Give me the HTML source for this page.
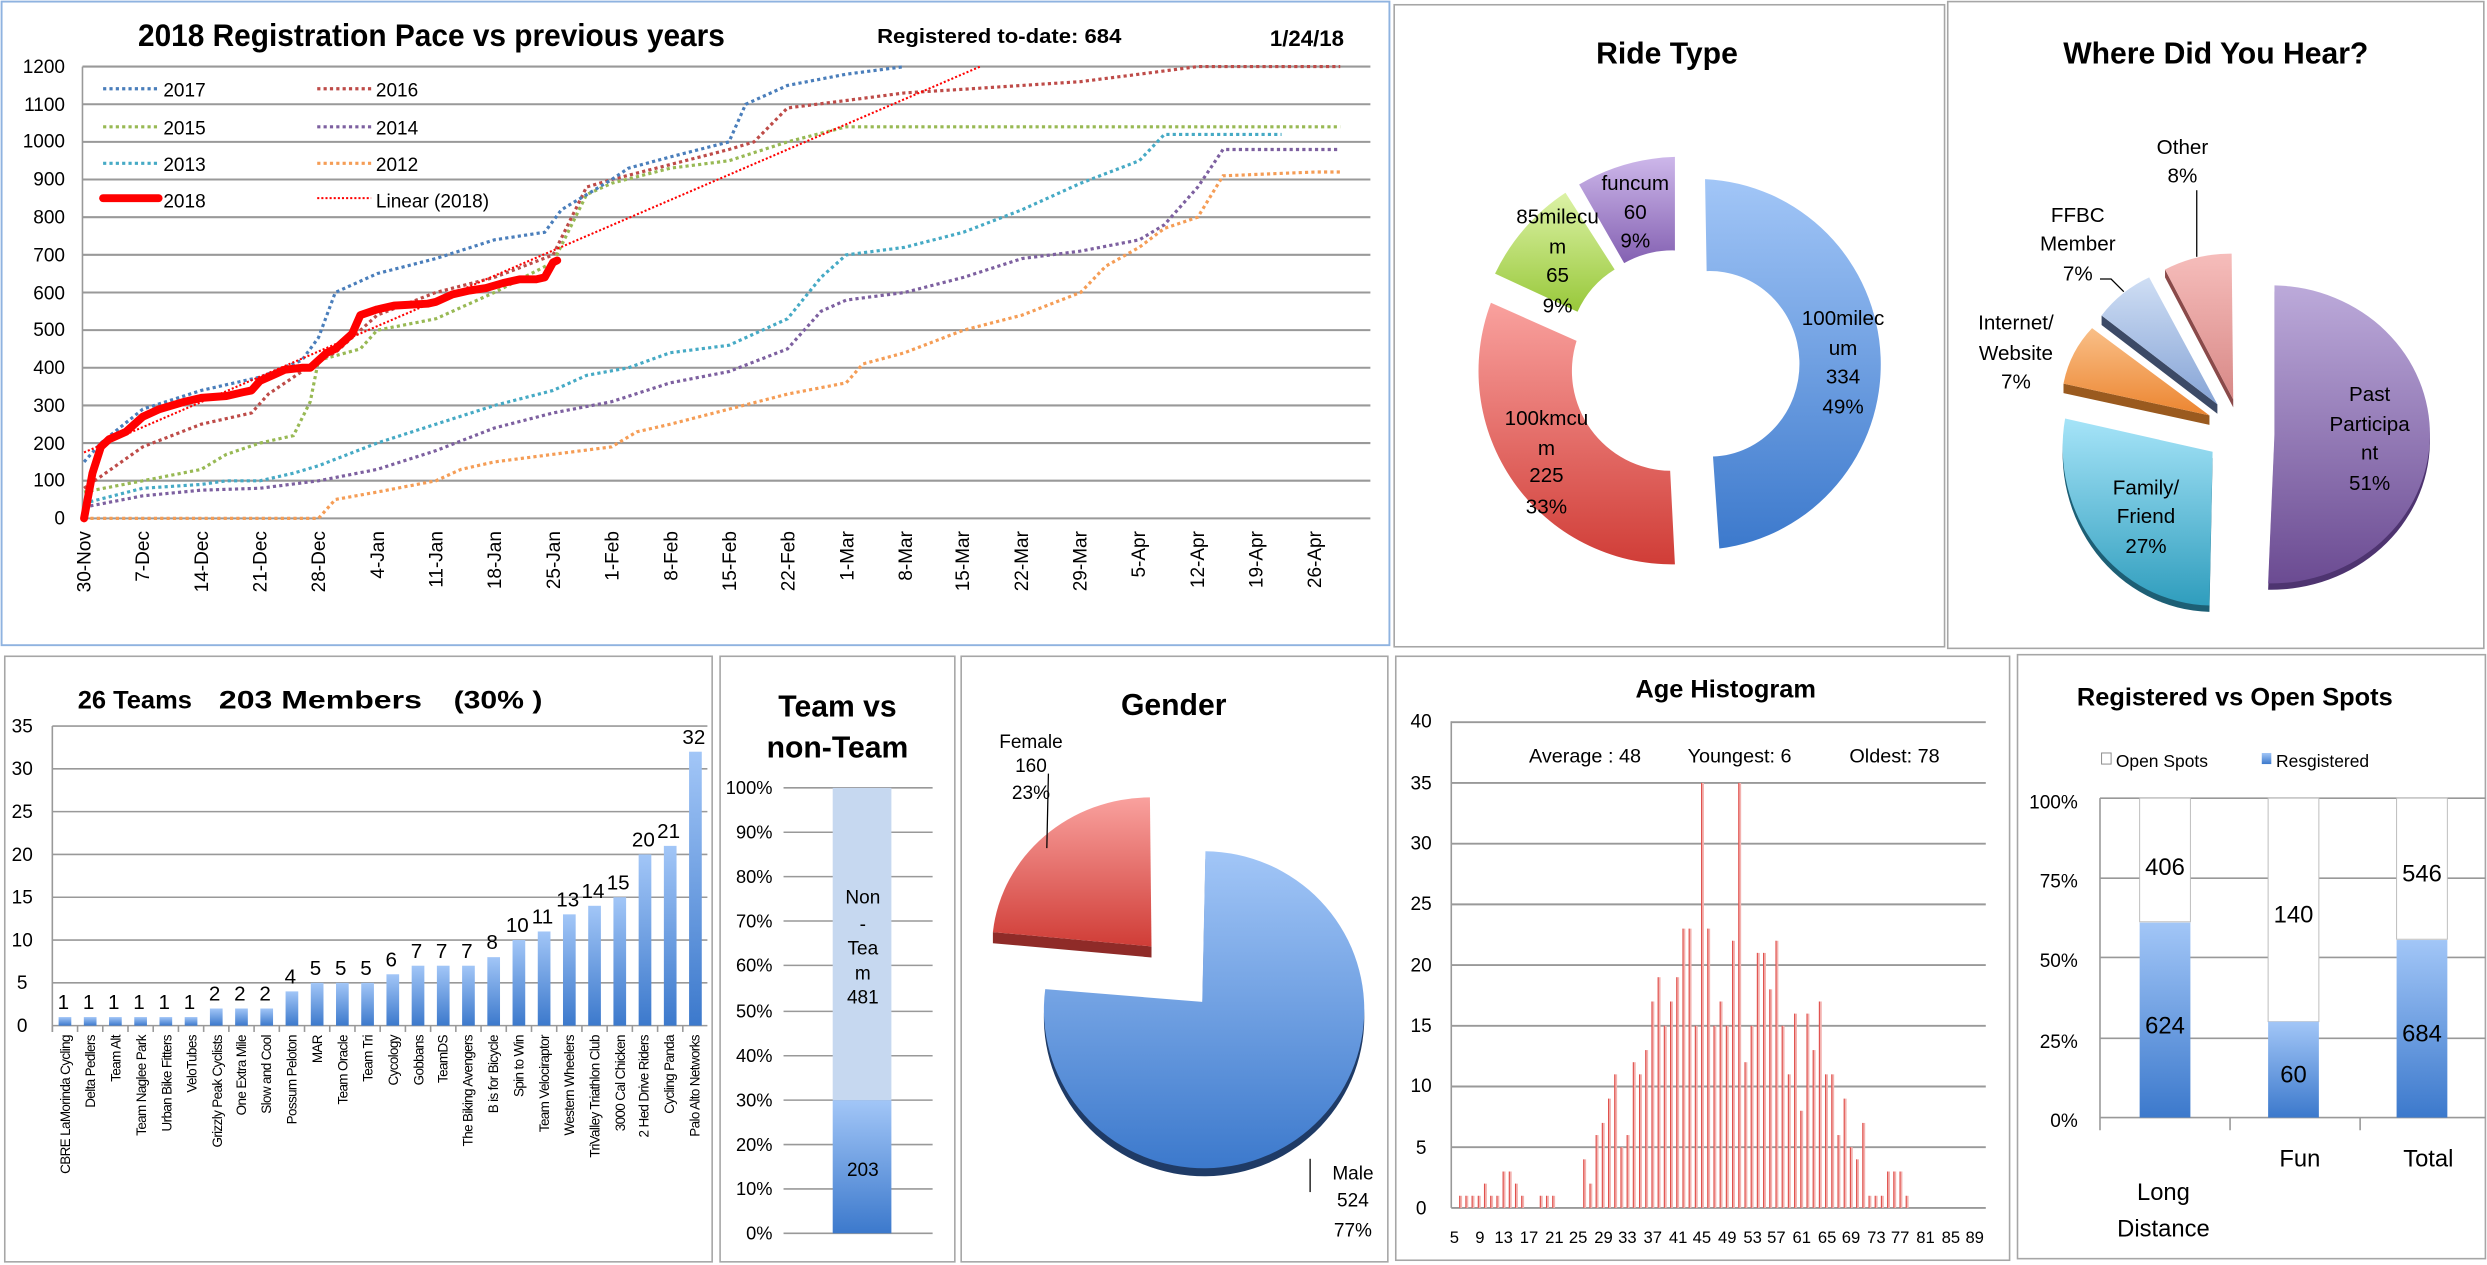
<!DOCTYPE html>
<html><head><meta charset="utf-8"><style>
html,body{margin:0;padding:0;background:#fff;}
svg{display:block;}
text{font-family:"Liberation Sans Narrow","Liberation Sans",sans-serif;fill:#000;}
.b{font-weight:bold;}
</style></head><body>
<svg id="s" width="2487" height="1265" viewBox="0 0 1568 798" preserveAspectRatio="none" xmlns="http://www.w3.org/2000/svg">
<defs>
<linearGradient id="gb" x1="0" y1="0" x2="0" y2="1"><stop offset="0" stop-color="#a2c6f7"/><stop offset="1" stop-color="#3c79cc"/></linearGradient>
<linearGradient id="gr" x1="0" y1="0" x2="0" y2="1"><stop offset="0" stop-color="#f9a19e"/><stop offset="1" stop-color="#d03d37"/></linearGradient>
<linearGradient id="gg" x1="0" y1="0" x2="0" y2="1"><stop offset="0" stop-color="#dcf2a6"/><stop offset="1" stop-color="#98c83a"/></linearGradient>
<linearGradient id="gp" x1="0" y1="0" x2="0" y2="1"><stop offset="0" stop-color="#cdb7ea"/><stop offset="1" stop-color="#8461b2"/></linearGradient>
<linearGradient id="gpp" x1="0" y1="0" x2="0" y2="1"><stop offset="0" stop-color="#bcaada"/><stop offset="1" stop-color="#6b4b92"/></linearGradient>
<linearGradient id="gc" x1="0" y1="0" x2="0" y2="1"><stop offset="0" stop-color="#a6e4f8"/><stop offset="1" stop-color="#2f9dbd"/></linearGradient>
<linearGradient id="go" x1="0" y1="0" x2="0" y2="1"><stop offset="0" stop-color="#f9bf88"/><stop offset="1" stop-color="#ec8530"/></linearGradient>
<linearGradient id="gf" x1="0" y1="0" x2="0" y2="1"><stop offset="0" stop-color="#cfdef4"/><stop offset="1" stop-color="#86a4d6"/></linearGradient>
<linearGradient id="gt" x1="0" y1="0" x2="0" y2="1"><stop offset="0" stop-color="#f6bdbb"/><stop offset="1" stop-color="#d88987"/></linearGradient>
</defs>

<rect x="1" y="1" width="875" height="406" fill="#fff" stroke="#8fb3e0" stroke-width="1.2"/>
<rect x="879" y="3" width="347" height="405" fill="#fff" stroke="#a6a6a6"/>
<rect x="1228" y="1" width="338" height="408" fill="#fff" stroke="#a6a6a6"/>
<rect x="3" y="414" width="446" height="382" fill="#fff" stroke="#a6a6a6"/>
<rect x="454" y="414" width="148" height="382" fill="#fff" stroke="#a6a6a6"/>
<rect x="606" y="414" width="269" height="382" fill="#fff" stroke="#a6a6a6"/>
<rect x="880" y="414" width="387" height="381" fill="#fff" stroke="#a6a6a6"/>
<rect x="1272" y="413" width="295" height="381" fill="#fff" stroke="#a6a6a6"/>

<!-- PANEL 1 -->
<g id="p1grid"></g>
<text x="272" y="29" class="b" font-size="20" text-anchor="middle" textLength="370" lengthAdjust="spacingAndGlyphs">2018 Registration Pace vs previous years</text>
<text x="630" y="27" class="b" font-size="13" text-anchor="middle" textLength="154" lengthAdjust="spacingAndGlyphs">Registered to-date: 684</text>
<text x="824" y="29" class="b" font-size="14" text-anchor="middle">1/24/18</text>
<g font-size="12" text-anchor="end">
<text x="41" y="331">0</text><text x="41" y="307">100</text><text x="41" y="284">200</text><text x="41" y="260">300</text><text x="41" y="236">400</text><text x="41" y="212">500</text><text x="41" y="189">600</text><text x="41" y="165">700</text><text x="41" y="141">800</text><text x="41" y="117">900</text><text x="41" y="93">1000</text><text x="41" y="70">1100</text><text x="41" y="46">1200</text>
</g>
<g font-size="12" text-anchor="end">
<text transform="translate(57,335) rotate(-90)">30-Nov</text>
<text transform="translate(94,335) rotate(-90)">7-Dec</text>
<text transform="translate(131,335) rotate(-90)">14-Dec</text>
<text transform="translate(168,335) rotate(-90)">21-Dec</text>
<text transform="translate(205,335) rotate(-90)">28-Dec</text>
<text transform="translate(242,335) rotate(-90)">4-Jan</text>
<text transform="translate(279,335) rotate(-90)">11-Jan</text>
<text transform="translate(316,335) rotate(-90)">18-Jan</text>
<text transform="translate(353,335) rotate(-90)">25-Jan</text>
<text transform="translate(390,335) rotate(-90)">1-Feb</text>
<text transform="translate(427,335) rotate(-90)">8-Feb</text>
<text transform="translate(464,335) rotate(-90)">15-Feb</text>
<text transform="translate(501,335) rotate(-90)">22-Feb</text>
<text transform="translate(538,335) rotate(-90)">1-Mar</text>
<text transform="translate(575,335) rotate(-90)">8-Mar</text>
<text transform="translate(611,335) rotate(-90)">15-Mar</text>
<text transform="translate(648,335) rotate(-90)">22-Mar</text>
<text transform="translate(685,335) rotate(-90)">29-Mar</text>
<text transform="translate(722,335) rotate(-90)">5-Apr</text>
<text transform="translate(759,335) rotate(-90)">12-Apr</text>
<text transform="translate(796,335) rotate(-90)">19-Apr</text>
<text transform="translate(833,335) rotate(-90)">26-Apr</text>
</g>
<g id="series"></g>
<g font-size="12">
<line x1="65" y1="56" x2="100" y2="56" stroke="#4a7ebb" stroke-width="2" stroke-dasharray="2 2"/><text x="103" y="61">2017</text>
<line x1="200" y1="56" x2="234" y2="56" stroke="#be4b48" stroke-width="2" stroke-dasharray="2 2"/><text x="237" y="61">2016</text>
<line x1="65" y1="80" x2="100" y2="80" stroke="#98b954" stroke-width="2" stroke-dasharray="2 2"/><text x="103" y="85">2015</text>
<line x1="200" y1="80" x2="234" y2="80" stroke="#7d60a0" stroke-width="2" stroke-dasharray="2 2"/><text x="237" y="85">2014</text>
<line x1="65" y1="103" x2="100" y2="103" stroke="#46aac5" stroke-width="2" stroke-dasharray="2 2"/><text x="103" y="108">2013</text>
<line x1="200" y1="103" x2="234" y2="103" stroke="#f59d56" stroke-width="2" stroke-dasharray="2 2"/><text x="237" y="108">2012</text>
<line x1="65" y1="125" x2="100" y2="125" stroke="#ff0000" stroke-width="5" stroke-linecap="round"/><text x="103" y="131">2018</text>
<line x1="200" y1="125" x2="234" y2="125" stroke="#ff0000" stroke-width="1.3" stroke-dasharray="1.3 1.3"/><text x="237" y="131">Linear (2018)</text>
</g>

<!-- RIDE TYPE -->
<text x="1051" y="40" class="b" font-size="19" text-anchor="middle">Ride Type</text>
<path d="M1075,113 A116,117 0 0 1 1084,346 L1080,288 A56,58 0 0 0 1076,171 Z" fill="url(#gb)"/>
<path d="M1056,356 A122,122 0 0 1 940,191 L994,215 A63,63 0 0 0 1053,297 Z" fill="url(#gr)"/>
<path d="M994.6,196.7 L942.6,172.6 A125,125 0 0 1 987,121.6 L1018,170 A60,60 0 0 0 994.6,196.7 Z" fill="url(#gg)"/>
<path d="M1024,166 L995.6,116.4 A125,125 0 0 1 1056,99 L1056,158 A62,62 0 0 0 1024,166 Z" fill="url(#gp)"/>
<g font-size="13" text-anchor="middle">
<text x="1031" y="120">funcum</text><text x="1031" y="138">60</text><text x="1031" y="156">9%</text>
<text x="982" y="141">85milecu</text><text x="982" y="160">m</text><text x="982" y="178">65</text><text x="982" y="197">9%</text>
<text x="1162" y="205">100milec</text><text x="1162" y="224">um</text><text x="1162" y="242">334</text><text x="1162" y="261">49%</text>
<text x="975" y="268">100kmcu</text><text x="975" y="287">m</text><text x="975" y="304">225</text><text x="975" y="324">33%</text>
</g>

<!-- WHERE -->
<text x="1397" y="40" class="b" font-size="19" text-anchor="middle">Where Did You Hear?</text>
<path d="M1434,278 L1434,184 A100,94 0 0 1 1430,372 Z" fill="#4e3470"/>
<path d="M1434,274 L1434,180 A100,94 0 0 1 1430,368 Z" fill="url(#gpp)"/>
<path d="M1395,289 L1302,268 A95,100 0 0 0 1393,386 Z" fill="#1d5f75"/>
<path d="M1395,285 L1302,264 A95,100 0 0 0 1393,382 Z" fill="url(#gc)"/>
<path d="M1393,262 L1301,242 L1301,248 L1393,268 Z" fill="#9a5a1f"/>
<path d="M1393,262 L1319,207 A70,70 0 0 0 1301,242 Z" fill="url(#go)"/>
<path d="M1398,255 L1325,199 L1325,205 L1398,261 Z" fill="#3c4a66"/>
<path d="M1398,255 L1325,199 A80,80 0 0 1 1355,175 Z" fill="url(#gf)"/>
<path d="M1408,252 L1365,170 L1365,175 L1408,257 Z" fill="#8a4a4a"/>
<path d="M1408,252 L1365,170 A90,90 0 0 1 1407,160 Z" fill="url(#gt)"/>
<line x1="1385" y1="120" x2="1385" y2="162" stroke="#000" stroke-width="0.8"/>
<polyline points="1324,176 1331,176 1339,184" fill="none" stroke="#000" stroke-width="0.8"/>
<g font-size="13" text-anchor="middle">
<text x="1376" y="97">Other</text><text x="1376" y="115">8%</text>
<text x="1310" y="140">FFBC</text><text x="1310" y="158">Member</text><text x="1310" y="177">7%</text>
<text x="1271" y="208">Internet/</text><text x="1271" y="227">Website</text><text x="1271" y="245">7%</text>
<text x="1494" y="253">Past</text><text x="1494" y="272">Participa</text><text x="1494" y="290">nt</text><text x="1494" y="309">51%</text>
<text x="1353" y="312">Family/</text><text x="1353" y="330">Friend</text><text x="1353" y="349">27%</text>
</g>

<!-- TEAMS -->
<g class="b" font-size="16">
<text x="49" y="447" textLength="72" lengthAdjust="spacingAndGlyphs">26 Teams</text>
<text x="138" y="447" textLength="128" lengthAdjust="spacingAndGlyphs">203 Members</text>
<text x="286" y="447" textLength="56" lengthAdjust="spacingAndGlyphs">(30% )</text>
</g>
<g id="teams"></g>
<g font-size="12" text-anchor="middle">
<text x="14" y="651">0</text><text x="14" y="624">5</text><text x="14" y="597">10</text><text x="14" y="570">15</text><text x="14" y="543">20</text><text x="14" y="516">25</text><text x="14" y="489">30</text><text x="14" y="462">35</text>
</g>
<g font-size="8.5" text-anchor="end" letter-spacing="-0.4">
<text transform="translate(44,653) rotate(-90)">CBRE LaMorinda Cycling</text>
<text transform="translate(60,653) rotate(-90)">Delta Pedlers</text>
<text transform="translate(76,653) rotate(-90)">Team Alt</text>
<text transform="translate(92,653) rotate(-90)">Team Naglee Park</text>
<text transform="translate(108,653) rotate(-90)">Urban Bike Fitters</text>
<text transform="translate(124,653) rotate(-90)">VeloTubes</text>
<text transform="translate(140,653) rotate(-90)">Grizzly Peak Cyclists</text>
<text transform="translate(155,653) rotate(-90)">One Extra Mile</text>
<text transform="translate(171,653) rotate(-90)">Slow and Cool</text>
<text transform="translate(187,653) rotate(-90)">Possum Peloton</text>
<text transform="translate(203,653) rotate(-90)">MAR</text>
<text transform="translate(219,653) rotate(-90)">Team Oracle</text>
<text transform="translate(235,653) rotate(-90)">Team Tri</text>
<text transform="translate(251,653) rotate(-90)">Cycology</text>
<text transform="translate(267,653) rotate(-90)">Gobbans</text>
<text transform="translate(282,653) rotate(-90)">TeamDS</text>
<text transform="translate(298,653) rotate(-90)">The Biking Avengers</text>
<text transform="translate(314,653) rotate(-90)">B is for Bicycle</text>
<text transform="translate(330,653) rotate(-90)">Spin to Win</text>
<text transform="translate(346,653) rotate(-90)">Team Velociraptor</text>
<text transform="translate(362,653) rotate(-90)">Western Wheelers</text>
<text transform="translate(378,653) rotate(-90)">TriValley Triathlon Club</text>
<text transform="translate(394,653) rotate(-90)">3000 Cal Chicken</text>
<text transform="translate(409,653) rotate(-90)">2 Hed Drive Riders</text>
<text transform="translate(425,653) rotate(-90)">Cycling Panda</text>
<text transform="translate(441,653) rotate(-90)">Palo Alto Networks</text>
</g>

<!-- TEAM VS NON -->
<text x="528" y="452" class="b" font-size="19" text-anchor="middle">Team vs</text>
<text x="528" y="478" class="b" font-size="19" text-anchor="middle">non-Team</text>
<g stroke="#999" stroke-width="1">
<line x1="494" y1="497" x2="588" y2="497"/><line x1="494" y1="525" x2="588" y2="525"/><line x1="494" y1="553" x2="588" y2="553"/><line x1="494" y1="581" x2="588" y2="581"/><line x1="494" y1="609" x2="588" y2="609"/><line x1="494" y1="638" x2="588" y2="638"/><line x1="494" y1="666" x2="588" y2="666"/><line x1="494" y1="694" x2="588" y2="694"/><line x1="494" y1="722" x2="588" y2="722"/><line x1="494" y1="750" x2="588" y2="750"/><line x1="494" y1="778" x2="588" y2="778"/>
</g>
<rect x="525" y="497" width="37" height="197" fill="#c6d8f0"/>
<rect x="525" y="694" width="37" height="84" fill="url(#gb)"/>
<g font-size="11.5" text-anchor="end">
<text x="487" y="501">100%</text><text x="487" y="529">90%</text><text x="487" y="557">80%</text><text x="487" y="585">70%</text><text x="487" y="613">60%</text><text x="487" y="642">50%</text><text x="487" y="670">40%</text><text x="487" y="698">30%</text><text x="487" y="726">20%</text><text x="487" y="754">10%</text><text x="487" y="782">0%</text>
</g>
<g font-size="12" text-anchor="middle">
<text x="544" y="570">Non</text><text x="544" y="587">-</text><text x="544" y="602">Tea</text><text x="544" y="618">m</text><text x="544" y="633">481</text><text x="544" y="742">203</text>
</g>

<!-- GENDER -->
<text x="740" y="451" class="b" font-size="19" text-anchor="middle">Gender</text>
<path d="M758,637 L760,542 A101,100 0 1 1 659,629 Z" fill="#1f3b66"/>
<path d="M758,632 L760,537 A101,100 0 1 1 659,624 Z" fill="url(#gb)"/>
<path d="M626,588 L726,597 L726,604 L626,595 Z" fill="#8f2b28"/>
<path d="M726,597 L626,588 A100,95 0 0 1 725,503 Z" fill="url(#gr)"/>
<line x1="661" y1="488" x2="660" y2="535" stroke="#000" stroke-width="0.8"/>
<line x1="826" y1="731" x2="826" y2="752" stroke="#000" stroke-width="0.8"/>
<g font-size="12" text-anchor="middle">
<text x="650" y="472">Female</text><text x="650" y="487">160</text><text x="650" y="504">23%</text>
<text x="853" y="744">Male</text><text x="853" y="761">524</text><text x="853" y="780">77%</text>
</g>

<!-- AGE -->
<text x="1088" y="440" class="b" font-size="16" text-anchor="middle">Age Histogram</text>
<g id="age"></g>
<g font-size="12" text-anchor="middle">
<text x="896" y="766">0</text><text x="896" y="728">5</text><text x="896" y="689">10</text><text x="896" y="651">15</text><text x="896" y="613">20</text><text x="896" y="574">25</text><text x="896" y="536">30</text><text x="896" y="498">35</text><text x="896" y="459">40</text>
</g>
<g font-size="12.5">
<text x="964" y="481">Average : 48</text>
<text x="1064" y="481">Youngest: 6</text>
<text x="1166" y="481">Oldest: 78</text>
</g>
<g font-size="10.5" text-anchor="middle"><text x="917" y="784">5</text><text x="933" y="784">9</text><text x="948" y="784">13</text><text x="964" y="784">17</text><text x="980" y="784">21</text><text x="995" y="784">25</text><text x="1011" y="784">29</text><text x="1026" y="784">33</text><text x="1042" y="784">37</text><text x="1058" y="784">41</text><text x="1073" y="784">45</text><text x="1089" y="784">49</text><text x="1105" y="784">53</text><text x="1120" y="784">57</text><text x="1136" y="784">61</text><text x="1152" y="784">65</text><text x="1167" y="784">69</text><text x="1183" y="784">73</text><text x="1198" y="784">77</text><text x="1214" y="784">81</text><text x="1230" y="784">85</text><text x="1245" y="784">89</text></g>

<!-- REG VS OPEN -->
<text x="1409" y="445" class="b" font-size="16" text-anchor="middle">Registered vs Open Spots</text>
<rect x="1325" y="475" width="6" height="7" fill="#fff" stroke="#888" stroke-width="0.6"/>
<text x="1334" y="484" font-size="11">Open Spots</text>
<rect x="1426" y="475" width="6" height="7" fill="url(#gb)"/>
<text x="1435" y="484" font-size="11">Resgistered</text>
<g stroke="#999" stroke-width="1">
<line x1="1324" y1="503.5" x2="1567" y2="503.5"/><line x1="1324" y1="554" x2="1567" y2="554"/><line x1="1324" y1="604" x2="1567" y2="604"/><line x1="1324" y1="655" x2="1567" y2="655"/><line x1="1324" y1="705" x2="1567" y2="705"/>
<line x1="1324" y1="503.5" x2="1324" y2="713"/><line x1="1406" y1="705" x2="1406" y2="713"/><line x1="1488" y1="705" x2="1488" y2="713"/>
</g>
<rect x="1349" y="503.5" width="32" height="78" fill="#fff" stroke="#bbb" stroke-width="0.6"/>
<rect x="1349" y="582" width="32" height="123" fill="url(#gb)"/>
<rect x="1430" y="503.5" width="32" height="141" fill="#fff" stroke="#bbb" stroke-width="0.6"/>
<rect x="1430" y="644.5" width="32" height="60.5" fill="url(#gb)"/>
<rect x="1511" y="503.5" width="32" height="89" fill="#fff" stroke="#bbb" stroke-width="0.6"/>
<rect x="1511" y="593" width="32" height="112" fill="url(#gb)"/>
<g font-size="12" text-anchor="end">
<text x="1310" y="510">100%</text><text x="1310" y="560">75%</text><text x="1310" y="610">50%</text><text x="1310" y="661">25%</text><text x="1310" y="711">0%</text>
</g>
<g font-size="15" text-anchor="middle">
<text x="1365" y="552">406</text><text x="1365" y="652">624</text><text x="1446" y="582">140</text><text x="1446" y="683">60</text><text x="1527" y="556">546</text><text x="1527" y="657">684</text>
<text x="1364" y="757">Long</text><text x="1364" y="780">Distance</text><text x="1450" y="736">Fun</text><text x="1531" y="736">Total</text>
</g>

<script>
(function(){
var NS="http://www.w3.org/2000/svg";
function el(p,n,a){var e=document.createElementNS(NS,n);for(var k in a)e.setAttribute(k,a[k]);p.appendChild(e);return e;}
var g=document.getElementById('p1grid');
for(var v=0;v<=1200;v+=100){var y=327-v*0.2375;el(g,'line',{x1:52,y1:y,x2:864,y2:y,stroke:'#999','stroke-width':1.3});}
el(g,'line',{x1:52,y1:42,x2:52,y2:327,stroke:'#999','stroke-width':1});
var X=function(d){return 53+d*5.28},Y=function(v){return 327-v*0.2375};
var s=document.getElementById('series');
function P(d,c,w,da){var pts=d.map(function(p){return X(p[0]).toFixed(1)+','+Y(p[1]).toFixed(1)}).join(' ');
var a={points:pts,fill:'none',stroke:c,'stroke-width':w};
if(da){a['stroke-dasharray']=da;a['stroke-linecap']='butt';}else{a['stroke-linejoin']='round';a['stroke-linecap']='round';}
el(s,'polyline',a);}
var D='2 2';
P([[0,0],[28,0],[30,50],[35,70],[42,100],[45,130],[49,150],[56,170],[63,190],[66,230],[70,250],[77,290],[84,330],[91,360],[93,410],[98,440],[105,500],[112,540],[119,600],[122,670],[126,720],[129,770],[133,800],[136,910],[147,920],[150,920]],'#f59d56',2,D);
P([[0,30],[7,60],[14,75],[21,80],[28,100],[35,130],[42,180],[49,240],[56,280],[63,310],[70,360],[77,390],[84,450],[88,550],[91,580],[98,600],[105,640],[112,690],[119,710],[126,740],[129,780],[133,880],[136,980],[150,980]],'#7d60a0',2,D);
P([[0,40],[7,80],[14,90],[17,100],[21,100],[25,120],[28,140],[35,200],[42,250],[49,300],[56,340],[60,380],[65,400],[70,440],[77,460],[84,530],[88,640],[91,700],[98,720],[105,760],[112,820],[119,890],[126,950],[129,1020],[143,1020]],'#46aac5',2,D);
P([[0,70],[7,100],[14,130],[17,170],[21,200],[25,220],[27,310],[28,420],[33,450],[35,500],[42,530],[49,600],[56,680],[60,860],[63,890],[70,930],[77,950],[84,1000],[91,1040],[150,1040]],'#98b954',2,D);
P([[0,80],[7,190],[14,250],[20,280],[22,330],[28,420],[30,440],[35,540],[42,600],[49,640],[56,700],[60,880],[63,900],[70,940],[77,980],[80,1000],[84,1090],[91,1110],[98,1130],[105,1140],[119,1160],[126,1180],[133,1200],[150,1200]],'#be4b48',2,D);
P([[0,150],[2,200],[7,290],[14,340],[21,375],[26,420],[28,480],[30,600],[35,650],[42,690],[49,740],[55,760],[57,820],[63,900],[65,930],[70,960],[77,1000],[79,1100],[84,1150],[91,1180],[98,1200]],'#4a7ebb',2,D);
P([[0,175],[107,1200]],'#ff0000',1.3,'1.3 1.3');
P([[0,0],[1,120],[2,190],[3,210],[5,230],[7,270],[9,290],[12,310],[14,320],[17,325],[19,335],[20,340],[21,365],[23,385],[24,395],[26,400],[27,400],[28,420],[29,440],[30,450],[32,490],[33,540],[35,555],[37,565],[41,570],[42,575],[44,595],[46,605],[48,612],[50,625],[52,635],[54,635],[55,640],[56,680],[56.5,685]],'#ff0000',5);
var t=document.getElementById('teams');
for(var v=0;v<=35;v+=5){var y=647-v*5.4;el(t,'line',{x1:33,y1:y,x2:446,y2:y,stroke:'#999','stroke-width':1});}
el(t,'line',{x1:33,y1:458,x2:33,y2:651,stroke:'#999','stroke-width':1});
var tv=[1,1,1,1,1,1,2,2,2,4,5,5,5,6,7,7,7,8,10,11,13,14,15,20,21,32];
tv.forEach(function(v,i){var cx=33+(i+0.5)*15.9;el(t,'rect',{x:cx-4,y:647-v*5.4,width:8,height:v*5.4,fill:'url(#gb)'});
el(t,'line',{x1:33+i*15.9,y1:647,x2:33+i*15.9,y2:651,stroke:'#999'});
var tx=el(t,'text',{x:cx-1,y:647-v*5.4-5,'font-size':13,'text-anchor':'middle'});tx.textContent=v;});
var a=document.getElementById('age');
for(var v=0;v<=40;v+=5){var y=762-v*7.66;el(a,'line',{x1:915,y1:y,x2:1252,y2:y,stroke:'#999','stroke-width':1.2});}
el(a,'line',{x1:915,y1:455,x2:915,y2:762,stroke:'#999','stroke-width':1});
var av={};[1,1,1,1,2,1,1,3,3,2,1].forEach(function(v,i){av[6+i]=v;});av[19]=1;av[20]=1;av[21]=1;
[4,2,6,7,9,11,5,6,12,11,13,17,19,15,17,19,23,23,15,35,23,15,17,15,22,35,12,15,21,21,18,22,15,11,16,8,16,13,17,11,11,6,9,5,4,7,1,1,1,3,3,3,1].forEach(function(v,i){av[26+i]=v;});
for(var k in av){var x=917+(k-5)*3.91,h=av[k]*7.66;el(a,'rect',{x:x-0.9,y:762-h,width:1.8,height:h,fill:'#f3b3b0'});el(a,'line',{x1:x-0.6,y1:762-h,x2:x-0.6,y2:762,stroke:'#e0504c','stroke-width':0.7});}
})();
</script>
</svg>
</body></html>
